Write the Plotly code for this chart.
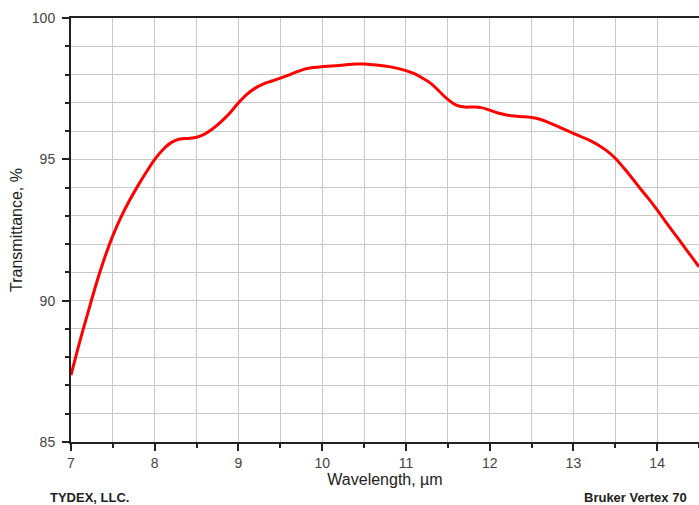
import plotly.graph_objects as go

wavelength = [7.0, 7.1, 7.2, 7.3, 7.4, 7.5, 7.6, 7.7, 7.8, 7.9, 8.0, 8.1, 8.2, 8.3, 8.4, 8.5,
              8.6, 8.7, 8.8, 8.9, 9.0, 9.1, 9.2, 9.3, 9.4, 9.5, 9.6, 9.7, 9.8, 9.9, 10.0,
              10.2, 10.4, 10.5, 10.6, 10.8, 11.0, 11.1, 11.2, 11.3, 11.4, 11.5, 11.6, 11.7,
              11.8, 11.9, 12.0, 12.1, 12.2, 12.3, 12.4, 12.5, 12.6, 12.7, 12.8, 12.9, 13.0,
              13.1, 13.2, 13.3, 13.4, 13.5, 13.6, 13.7, 13.8, 13.9, 14.0, 14.1, 14.2, 14.3,
              14.4, 14.5]
transmittance = [87.37, 88.5, 89.55, 90.58, 91.5, 92.3, 92.97, 93.55, 94.07, 94.55, 95.0, 95.35,
                 95.6, 95.72, 95.74, 95.78, 95.9, 96.1, 96.35, 96.65, 97.0, 97.3, 97.52, 97.67,
                 97.77, 97.87, 97.98, 98.1, 98.2, 98.25, 98.28, 98.32, 98.37, 98.37, 98.35,
                 98.28, 98.14, 98.03, 97.87, 97.68, 97.4, 97.12, 96.92, 96.85, 96.85, 96.83,
                 96.74, 96.64, 96.57, 96.53, 96.51, 96.48, 96.42, 96.31, 96.18, 96.05, 95.92,
                 95.79, 95.66, 95.5, 95.3, 95.04, 94.7, 94.34, 93.96, 93.6, 93.21, 92.8, 92.4,
                 92.0, 91.6, 91.2]
x_ticks = [7, 8, 9, 10, 11, 12, 13, 14]
y_ticks = [85, 90, 95, 100]

fig = go.Figure()
fig.add_trace(go.Scatter(
    x=wavelength, y=transmittance, mode="lines",
    line=dict(color="#ff0000", width=3, shape="spline", smoothing=1.0),
    showlegend=False, hoverinfo="skip",
))

font_family = "Liberation Sans, Arial, sans-serif"
fig.update_layout(
    width=699, height=505,
    margin=dict(l=71, r=0, t=18, b=63),
    paper_bgcolor="white", plot_bgcolor="white",
    font=dict(family=font_family, size=14, color="#333333"),
    xaxis=dict(
        range=[7, 14.5], tickvals=x_ticks, ticktext=[str(v) for v in x_ticks],
        ticks="outside", ticklen=7, tickwidth=2, tickcolor="#222",
        showline=True, linecolor="#222", linewidth=2, mirror=True,
        showgrid=True, gridcolor="#c8c8c8", gridwidth=1, zeroline=False,
        minor=dict(dtick=0.5, tick0=7, ticks="outside", ticklen=4, tickwidth=2,
                   tickcolor="#222", showgrid=True, gridcolor="#c8c8c8", gridwidth=1),
        title=dict(text="Wavelength, \u00b5m", font=dict(size=16, color="#222"), standoff=2),
        tickfont=dict(size=14, color="#444"),
    ),
    yaxis=dict(
        range=[85, 100], tickvals=y_ticks, ticktext=[str(v) for v in y_ticks],
        ticks="outside", ticklen=7, tickwidth=2, tickcolor="#222",
        showline=True, linecolor="#222", linewidth=2,
        showgrid=True, gridcolor="#c8c8c8", gridwidth=1, zeroline=False,
        minor=dict(dtick=1, tick0=85, ticks="outside", ticklen=4, tickwidth=2,
                   tickcolor="#222", showgrid=True, gridcolor="#c8c8c8", gridwidth=1),
        title=dict(text="Transmittance, %", font=dict(size=16, color="#222"), standoff=5),
        tickfont=dict(size=14, color="#444"),
        ticklabelstandoff=4,
    ),
    annotations=[
        dict(text="<b>TYDEX, LLC.</b>", xref="paper", yref="paper", x=-0.036, y=-0.13,
             xanchor="left", yanchor="middle", showarrow=False,
             font=dict(size=13, color="#222", family=font_family)),
        dict(text="<b>Bruker Vertex 70</b>", xref="paper", yref="paper", x=0.984, y=-0.13,
             xanchor="right", yanchor="middle", showarrow=False,
             font=dict(size=13, color="#222", family=font_family)),
    ],
)

fig.write_html("out.html", config={"displayModeBar": False},
               post_script="document.body.style.margin='0';document.body.style.overflow='hidden';")
